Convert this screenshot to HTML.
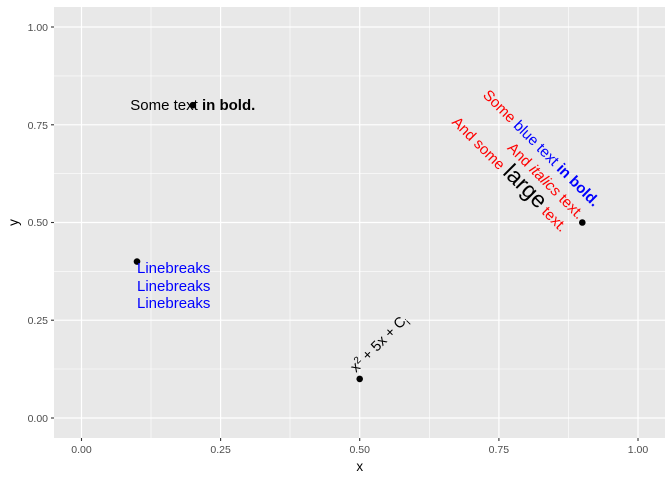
<!DOCTYPE html>
<html><head><meta charset="utf-8"><style>body{margin:0;background:#fff}svg{display:block;font-family:"Liberation Sans",sans-serif}</style></head><body>
<svg width="672" height="480" viewBox="0 0 672 480">
<rect x="54" y="7" width="611" height="431" fill="#e8e8e8"/>
<g stroke="#fff" stroke-width="0.6">
<line x1="151" y1="7" x2="151" y2="438"/><line x1="290" y1="7" x2="290" y2="438"/><line x1="429.5" y1="7" x2="429.5" y2="438"/><line x1="568.6" y1="7" x2="568.6" y2="438"/>
<line x1="54" y1="369" x2="665" y2="369"/><line x1="54" y1="271.4" x2="665" y2="271.4"/><line x1="54" y1="173.6" x2="665" y2="173.6"/><line x1="54" y1="75.9" x2="665" y2="75.9"/>
</g>
<g stroke="#fff" stroke-width="1.2">
<line x1="81.5" y1="7" x2="81.5" y2="438"/><line x1="220.6" y1="7" x2="220.6" y2="438"/><line x1="359.7" y1="7" x2="359.7" y2="438"/><line x1="498.9" y1="7" x2="498.9" y2="438"/><line x1="638" y1="7" x2="638" y2="438"/>
<line x1="54" y1="418" x2="665" y2="418"/><line x1="54" y1="320.2" x2="665" y2="320.2"/><line x1="54" y1="222.5" x2="665" y2="222.5"/><line x1="54" y1="124.8" x2="665" y2="124.8"/><line x1="54" y1="27" x2="665" y2="27"/>
</g>
<g stroke="#333" stroke-width="1.1">
<line x1="81.5" y1="438" x2="81.5" y2="441"/><line x1="220.6" y1="438" x2="220.6" y2="441"/><line x1="359.7" y1="438" x2="359.7" y2="441"/><line x1="498.9" y1="438" x2="498.9" y2="441"/><line x1="638" y1="438" x2="638" y2="441"/>
<line x1="51" y1="418" x2="54" y2="418"/><line x1="51" y1="320.2" x2="54" y2="320.2"/><line x1="51" y1="222.5" x2="54" y2="222.5"/><line x1="51" y1="124.8" x2="54" y2="124.8"/><line x1="51" y1="27" x2="54" y2="27"/>
</g>
<g fill="#4d4d4d" font-size="10.5" text-anchor="middle">
<text x="81.5" y="453">0.00</text><text x="220.6" y="453">0.25</text><text x="359.7" y="453">0.50</text><text x="498.9" y="453">0.75</text><text x="638" y="453">1.00</text>
</g>
<g fill="#4d4d4d" font-size="10.5" text-anchor="end">
<text x="48" y="422">0.00</text><text x="48" y="324">0.25</text><text x="48" y="226">0.50</text><text x="48" y="129">0.75</text><text x="48" y="31">1.00</text>
</g>
<text x="359.7" y="471" font-size="13.5" text-anchor="middle">x</text>
<text transform="translate(18,222.5) rotate(-90)" font-size="13.5" text-anchor="middle">y</text>

<text x="192.8" y="110" font-size="15" text-anchor="middle">Some text <tspan font-weight="bold">in bold.</tspan></text>
<circle cx="192.8" cy="105.2" r="3.3"/>
<circle cx="137" cy="261.6" r="3.3"/>
<g fill="#0000ff" font-size="15"><text x="137" y="273">Linebreaks</text><text x="137" y="291">Linebreaks</text><text x="137" y="308">Linebreaks</text></g>
<circle cx="359.7" cy="378.9" r="3.3"/>
<text transform="translate(356,373) rotate(-45)" font-size="14.5">x<tspan font-size="10" dy="-5">2</tspan><tspan dy="5"> + 5x + C</tspan><tspan font-size="10" dy="4">i</tspan></text>
<circle cx="582.3" cy="222.5" r="3.3"/>
<g transform="translate(578,220) rotate(45)" font-size="15" text-anchor="end">
<text x="2" y="-20" fill="#ff0000">Some <tspan fill="#0000ff">blue text <tspan font-weight="bold">in bold.</tspan></tspan></text>
<text x="0" y="0" fill="#ff0000">And <tspan font-style="italic">italics</tspan> text.</text>
<text x="-3" y="21" fill="#ff0000">And some <tspan fill="#000" font-size="23">large</tspan> text.</text>
</g>
</svg>
</body></html>
